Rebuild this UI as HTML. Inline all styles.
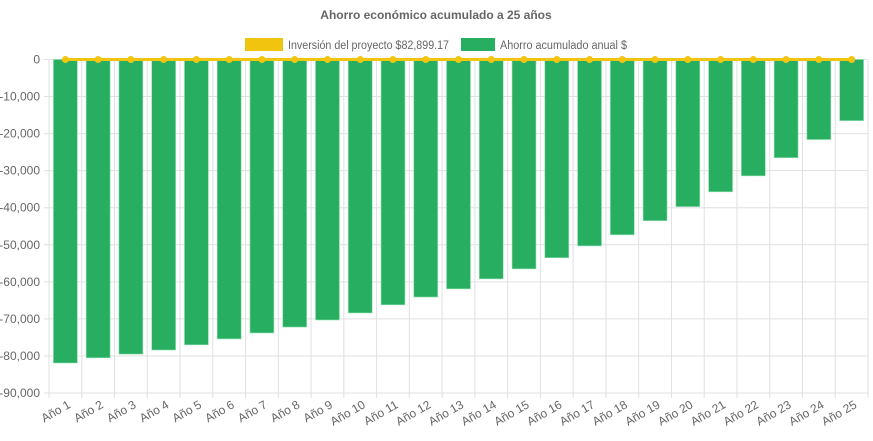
<!DOCTYPE html>
<html><head><meta charset="utf-8"><style>
body{margin:0;background:#fff;font-family:"Liberation Sans",sans-serif;}
svg text{font-family:"Liberation Sans",sans-serif;fill:#666;}
</style></head><body>
<svg id="chart" width="873" height="436">
<text x="436" y="19" text-anchor="middle" font-size="12" font-weight="bold">Ahorro económico acumulado a 25 años</text>
<g><rect x="245" y="38" width="38" height="13" fill="#f1c40f"></rect><text x="288" y="49" font-size="11.5" textLength="161" lengthAdjust="spacingAndGlyphs">Inversión del proyecto $82,899.17</text></g>
<g><rect x="461" y="38" width="34" height="13" fill="#27ae60"></rect><text x="500" y="49" font-size="11.5" textLength="127" lengthAdjust="spacingAndGlyphs">Ahorro acumulado anual $</text></g>
<g id="grid"></g><g id="bars"></g><g id="line"></g><g id="axes"></g>
</svg>
<script>
const categories=["Año 1","Año 2","Año 3","Año 4","Año 5","Año 6","Año 7","Año 8","Año 9","Año 10","Año 11","Año 12","Año 13","Año 14","Año 15","Año 16","Año 17","Año 18","Año 19","Año 20","Año 21","Año 22","Año 23","Año 24","Año 25"];
const savings=[-81900,-80500,-79500,-78400,-77000,-75400,-73800,-72200,-70300,-68400,-66200,-64100,-61900,-59200,-56500,-53500,-50300,-47300,-43500,-39700,-35700,-31400,-26500,-21600,-16500];
const investmentLine=[0,0,0,0,0,0,0,0,0,0,0,0,0,0,0,0,0,0,0,0,0,0,0,0,0];
const yTicks=[0,-10000,-20000,-30000,-40000,-50000,-60000,-70000,-80000,-90000];
const NS="http://www.w3.org/2000/svg";
const L=49,R=868,T=59.5,B=393;
const y=v=>T+(0-v)/90000*(B-T);
const cw=(R-L)/categories.length;
const xc=i=>L+cw*(i+0.5);
function mk(tag,attrs,parent){const e=document.createElementNS(NS,tag);for(const k in attrs)e.setAttribute(k,attrs[k]);document.getElementById(parent).appendChild(e);return e;}
yTicks.forEach(t=>{
 const l=mk('line',{x1:L-5,x2:R,y1:y(t),y2:y(t),stroke:'#e0e0e0'},'grid');
 
 
 const tx=mk('text',{x:L-9,y:y(t)+4,'text-anchor':'end','font-size':'12'},'axes');
 tx.textContent=t.toLocaleString('en-US');
 
 
});
for(let i=0;i<=categories.length;i++){
 const l=mk('line',{x1:L+cw*i,x2:L+cw*i,y1:T,y2:B+5,stroke:'#e0e0e0'},'grid');
 
 
}
categories.forEach((c,i)=>{
 const bw=cw*0.73;
 const r=mk('rect',{x:xc(i)-bw/2,y:y(0),width:bw,height:y(savings[i])-y(0),fill:'#27ae60',stroke:'#8fe0b0','stroke-width':0.6},'bars');
 
 
 const tx=mk('text',{x:xc(i)+6,y:B+14,'text-anchor':'end','font-size':'12',transform:`rotate(-30 ${xc(i)+6} ${B+14})`},'axes');
 tx.textContent=c;
 
 
});
const pts=investmentLine.map((v,i)=>xc(i)+','+y(v)).join(' ');
const pl=mk('polyline',{points:pts,fill:'none',stroke:'#f1c40f','stroke-width':3},'line');


investmentLine.forEach((v,i)=>{
 const c=mk('circle',{cx:xc(i),cy:y(v),r:3.5,fill:'#f1c40f'},'line');
 
 
});
</script>
</body></html>
